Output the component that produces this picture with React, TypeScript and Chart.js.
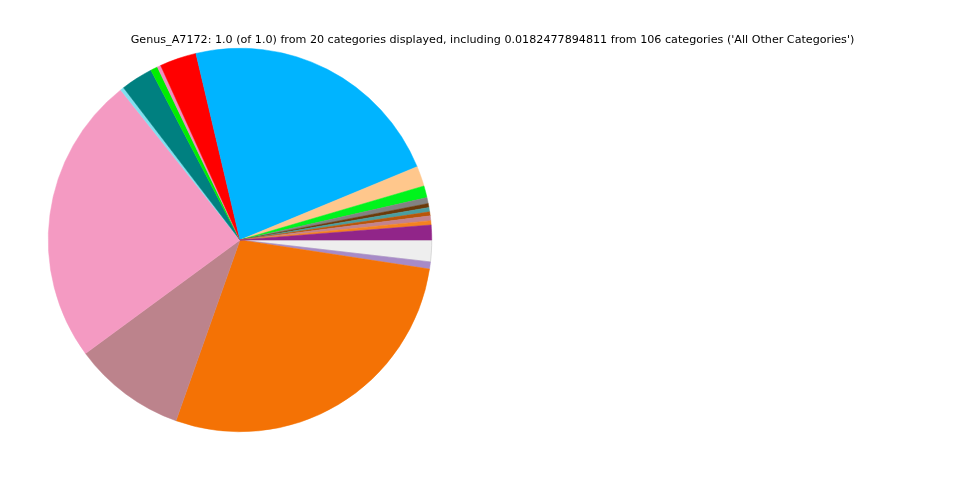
import React, { useEffect, useRef } from "react";
import { Chart, registerables } from "chart.js";

Chart.register(...registerables);

const titleText =
  "Genus_A7172: 1.0 (of 1.0) from 20 categories displayed, including 0.0182477894811 from 106 categories ('All Other Categories')";

// Counter-clockwise order starting at 3 o'clock (as in the reference)
const categories = [
  "Category 1", "Category 2", "Category 3", "Category 4", "Category 5",
  "Category 6", "Category 7", "Category 8", "Category 9", "Category 10",
  "Category 11", "Category 12", "Category 13", "Category 14", "Category 15",
  "Category 16", "Category 17", "Category 18", "Category 19", "All Other Categories",
];
const values = [
  0.0125, 0.0036, 0.004, 0.0034, 0.0036,
  0.0034, 0.005, 0.01, 0.017, 0.2245,
  0.031, 0.003, 0.006, 0.027, 0.003,
  0.244, 0.095, 0.28, 0.006, 0.0182477894811,
];
const colors = [
  "#912589", "#f58220", "#c2838f", "#b8560a", "#4a9ea0",
  "#6b3a0a", "#828282", "#00f41c", "#ffc78c", "#00b4ff",
  "#ff0000", "#f08cc0", "#00ee00", "#008080", "#80e0f0",
  "#f49ac2", "#bc838c", "#f47205", "#a78bc7", "#eeeeee",
];

export default function App() {
  const ref = useRef<HTMLCanvasElement | null>(null);
  useEffect(() => {
    if (!ref.current) return;
    // Chart.js draws clockwise: reverse so slices appear counter-clockwise from 3 o'clock
    const labels = [...categories].reverse();
    const data = [...values].reverse();
    const bg = [...colors].reverse();
    const borders = bg.map((c) => (c === "#eeeeee" ? "#bbbbbb" : c));
    const titlePlugin = {
      id: "topTitle",
      afterDraw(chart: any) {
        const ctx = chart.ctx;
        ctx.save();
        ctx.fillStyle = "#000";
        ctx.font = '11.15px "DejaVu Sans"';
        ctx.textAlign = "center";
        ctx.textBaseline = "middle";
        ctx.fillText(titleText, 492.5, 40);
        ctx.restore();
      },
    };
    const chart = new Chart(ref.current, {
      type: "pie",
      data: {
        labels,
        datasets: [
          {
            data,
            backgroundColor: bg,
            borderColor: borders,
            borderWidth: 0.5,
          },
        ],
      },
      options: {
        responsive: false,
        animation: false,
        rotation: 90,
        layout: { padding: { left: 48, right: 528, top: 48, bottom: 48 } },
        plugins: {
          legend: { display: false },
          title: { display: false },
          tooltip: { enabled: false },
        },
      },
      plugins: [titlePlugin],
    });
    return () => chart.destroy();
  }, []);
  return (
    <div style={{ position: "fixed", left: 0, top: 0, width: 960, height: 480, background: "#fff" }}>
      <canvas ref={ref} width={960} height={480} style={{ width: 960, height: 480 }} />
    </div>
  );
}
